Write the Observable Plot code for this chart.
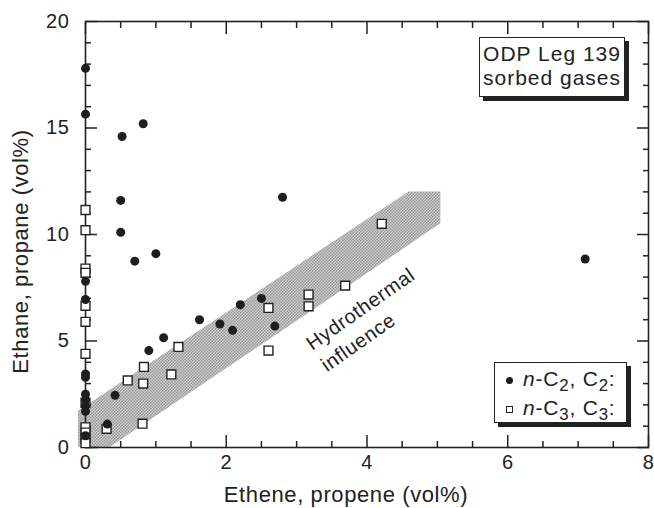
<!DOCTYPE html>
<html>
<head>
<meta charset="utf-8">
<script src="https://cdn.jsdelivr.net/npm/d3@7"></script>
<script src="https://cdn.jsdelivr.net/npm/@observablehq/plot@0.6"></script>
<style>
  body { margin: 0; background: #fff; }
  #chart { position: relative; width: 654px; height: 508px; font-family: "Liberation Sans", Arial, Helvetica, sans-serif; color: #222; }
  #chart svg { position: absolute; left: 0; top: 0; }
  #chart svg text { letter-spacing: 0.6px; }
  #chart svg text.axis-title { letter-spacing: 2px; }
  .box { position: absolute; background: #fff; border: 1.5px solid #222; box-shadow: 4px 4px 0 #222; box-sizing: border-box; }
  .title-box { left: 479px; top: 37px; width: 146px; height: 60px; font-size: 21px; line-height: 24px; text-align: center; padding-top: 4px; letter-spacing: 1px; }
  .legend-box { left: 494px; top: 362px; width: 133px; height: 61px; font-size: 21px; padding-left: 11px; letter-spacing: 0.8px; }
  .legend-row { height: 29px; line-height: 29px; white-space: nowrap; }
  .legend-row sub { font-size: 0.8em; vertical-align: -0.3em; line-height: 0; }
  .sw-dot { display: inline-block; width: 7px; height: 7px; border-radius: 50%; background: #1e1e1e; margin-right: 10px; vertical-align: 2px; }
  .sw-sq { display: inline-block; width: 7px; height: 7px; border: 1.3px solid #222; box-sizing: border-box; background: #fff; margin-right: 10px; vertical-align: 2px; }
</style>
</head>
<body>
<div id="chart">
  <div class="box title-box">ODP Leg 139<br>sorbed gases</div>
  <div class="box legend-box">
    <div class="legend-row" style="margin-top:1px"><span class="sw-dot"></span><i>n</i>-C<sub>2</sub>, C<sub>2</sub>:</div>
    <div class="legend-row"><span class="sw-sq"></span><i>n</i>-C<sub>3</sub>, C<sub>3</sub>:</div>
  </div>
</div>
<script>
// n-C2 / C2 (ethane vs ethene), vol%
const c2Ethene = [0, 0, 0, 0, 0, 0, 0, 0, 0, 0, 0,
  0.52, 0.82, 0.5, 0.5, 0.7, 1.0, 2.8, 7.1, 1.62, 1.91, 2.09, 2.2, 2.5, 2.69, 1.11, 0.9, 0.42, 0.31];
const c2Ethane = [17.8, 15.65, 7.8, 6.95, 3.45, 3.3, 2.5, 2.25, 1.95, 1.7, 0.55,
  14.6, 15.2, 11.6, 10.1, 8.75, 9.1, 11.75, 8.85, 6.0, 5.8, 5.5, 6.7, 7.0, 5.7, 5.15, 4.55, 2.45, 1.1];

// n-C3 / C3 (propane vs propene), vol%
const c3Propene = [0, 0, 0, 0, 0, 0, 0, 0, 0, 0, 0, 0,
  0.3, 0.6, 0.82, 0.83, 0.81, 1.22, 1.32, 2.6, 2.6, 3.17, 3.17, 3.69, 4.21];
const c3Propane = [11.15, 10.2, 8.4, 8.2, 6.65, 5.9, 4.4, 2.1, 0.95, 0.7, 0.45, 0.2,
  0.88, 3.15, 3.0, 3.78, 1.12, 3.43, 4.72, 6.55, 4.55, 7.18, 6.63, 7.6, 10.5];

// Hydrothermal influence band: upper and lower edges
const bandX = [-0.1, 0.35, 4.6, 5.05];
const bandLow = [0, 0, 9.49, 10.5];
const bandHigh = [1.7, 2.69, 12, 12];

const bandLabel = [{x: 3.07, y: 5.24, text: "Hydrothermal\ninfluence"}];

// Axis ticks
const xMajor = [0, 2, 4, 6, 8];
const xMinor = [0.5, 1, 1.5, 2.5, 3, 3.5, 4.5, 5, 5.5, 6.5, 7, 7.5];
const yMajor = [0, 5, 10, 15, 20];
const yMinor = [1, 2, 3, 4, 6, 7, 8, 9, 11, 12, 13, 14, 16, 17, 18, 19];

const c2 = c2Ethene.map((x, i) => ({x, y: c2Ethane[i]}));
const c3 = c3Propene.map((x, i) => ({x, y: c3Propane[i]}));
const band = bandX.map((x, i) => ({x, y1: bandLow[i], y2: bandHigh[i]}));

const ink = "#222";
const font = "'Liberation Sans', Arial, Helvetica, sans-serif";
const blank = () => "";

// inward ticks: an outward axis tick shifted back inside the frame by its own length
function sideTicks(values, side, size) {
  const shift = {bottom: {dy: -size}, top: {dy: size}, left: {dx: size}, right: {dx: -size}}[side];
  const axis = side === "bottom" || side === "top" ? Plot.axisX : Plot.axisY;
  return axis({anchor: side, ticks: values, tickSize: size, tickFormat: blank, label: null, stroke: ink, strokeWidth: 1.5, ...shift});
}

const chart = Plot.plot({
  width: 654,
  height: 508,
  marginLeft: 85,
  marginRight: 6,
  marginTop: 21,
  marginBottom: 61,
  style: {fontFamily: font, fontSize: "20px", color: ink},
  x: {domain: [0, 8]},
  y: {domain: [0, 20]},
  marks: [
    Plot.areaY(band, {x: "x", y1: "y1", y2: "y2", fill: "url(#band-dots)", curve: "linear"}),
    sideTicks(xMinor, "bottom", 6),
    sideTicks(xMinor, "top", 6),
    sideTicks(xMajor, "bottom", 12),
    sideTicks(xMajor, "top", 12),
    sideTicks(yMinor, "left", 6),
    sideTicks(yMinor, "right", 6),
    sideTicks(yMajor, "left", 12),
    sideTicks(yMajor, "right", 12),
    Plot.axisX({anchor: "bottom", ticks: xMajor, tickSize: 0, tickPadding: 7, tickFormat: d3.format("d"), label: null, fill: ink, fontSize: 20}),
    Plot.axisY({anchor: "left", ticks: yMajor, tickSize: 0, tickPadding: 16, tickFormat: d3.format("d"), label: null, fill: ink, fontSize: 20}),
    Plot.frame({stroke: ink, strokeWidth: 1.6}),
    Plot.text(bandLabel, {x: "x", y: "y", text: "text", rotate: -35, textAnchor: "start", lineAnchor: "top", lineHeight: 1.3, fontSize: 20, fill: ink}),
    Plot.dot(c3, {x: "x", y: "y", symbol: "square", r: 5, fill: "#fff", stroke: ink, strokeWidth: 1.4}),
    Plot.dot(c2, {x: "x", y: "y", r: 4.5, fill: "#1e1e1e", stroke: "none"}),
    Plot.text(["Ethene, propene (vol%)"], {frameAnchor: "bottom", textAnchor: "middle", lineAnchor: "middle", dx: -21, dy: 47, fontSize: 22, fill: ink, className: "axis-title"}),
    Plot.text(["Ethane, propane (vol%)"], {frameAnchor: "left", textAnchor: "middle", lineAnchor: "middle", dx: -65, dy: 17, rotate: -90, fontSize: 22, fill: ink, className: "axis-title"})
  ]
});

// fine dot screen used for the band
const svg = d3.select(chart);
const pat = svg.insert("defs", ":first-child")
  .append("pattern")
  .attr("id", "band-dots")
  .attr("patternUnits", "userSpaceOnUse")
  .attr("width", 3).attr("height", 3);
pat.append("rect").attr("width", 3).attr("height", 3).attr("fill", "#d2d2d2");
pat.append("rect").attr("x", 0).attr("y", 0).attr("width", 1.5).attr("height", 1.5).attr("fill", "#979797");
pat.append("rect").attr("x", 1.5).attr("y", 1.5).attr("width", 1.5).attr("height", 1.5).attr("fill", "#979797");

document.getElementById("chart").prepend(chart);
</script>
</body>
</html>
